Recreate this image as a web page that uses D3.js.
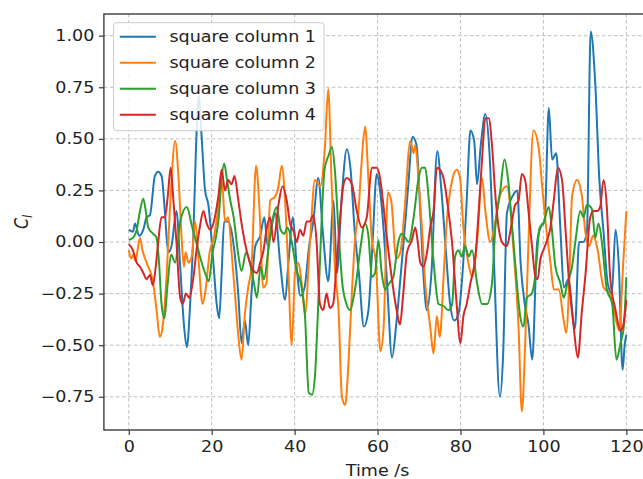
<!DOCTYPE html>
<html><head><meta charset="utf-8">
<script src="https://cdn.jsdelivr.net/npm/d3@7"></script>
<style>body{margin:0;background:#fff;overflow:hidden} text{font-family:"DejaVu Sans",sans-serif;fill:#222}</style>
</head><body><svg id="c" width="643" height="479"></svg>
<script>
const seriesNames = ["square column 1","square column 2","square column 3","square column 4"];
const seriesColors = ["#1f77b4","#ff7f0e","#2ca02c","#d62728"];
const xTicks = [0,20,40,60,80,100,120];
const yTicks = [-0.75,-0.5,-0.25,0,0.25,0.5,0.75,1.0];
const xLabel = "Time /s";

// [time (s), C_l]
const column1 = [[0,0.06],[1,0.05],[1.5,0.09],[2.5,0.03],[3.5,0.06],[4.3,0.12],[5.1,0.13],[6.3,0.32],[7.1,0.34],[7.9,0.32],[8.7,0.15],[9.5,-0.05],[10.3,-0.02],[11.5,0.15],[12.4,-0.12],[13.3,-0.4],[14,-0.51],[14.8,-0.3],[15.6,0.05],[16.2,0.45],[16.9,0.71],[17.6,0.5],[18.4,0.25],[19.2,0.18],[20.4,-0.1],[21.2,-0.3],[21.8,-0.37],[22.4,-0.15],[23,0.1],[24,0.1],[25.2,0.0],[26.4,-0.25],[27.2,-0.49],[28,-0.38],[28.8,-0.5],[29.6,-0.25],[30.5,-0.02],[31.7,0.03],[32.7,0.12],[33.5,-0.02],[34.5,0.08],[35.3,0.14],[36.5,-0.1],[37.7,-0.28],[38.5,-0.1],[39.6,0.12],[40.5,-0.12],[41.4,-0.26],[42.4,-0.22],[43.5,-0.02],[44.5,0.1],[45.7,0.31],[46.8,0.05],[48.1,-0.19],[49.4,0.2],[50.2,-0.15],[51.3,0.2],[52.6,0.45],[53.5,0.35],[54.5,0.05],[55.5,-0.15],[56.7,-0.41],[57.8,-0.33],[58.8,0.0],[59.8,0.33],[60.6,0.25],[61.5,0.05],[62.3,-0.2],[63.5,-0.56],[64.5,-0.4],[65.5,-0.18],[66.5,0.05],[67.5,0.3],[68.4,0.51],[69.4,0.47],[70.3,0.15],[71.2,-0.2],[71.9,-0.33],[73,-0.15],[74.4,0.44],[75.4,0.25],[76.5,-0.05],[77.5,-0.3],[78.5,-0.38],[79.5,-0.35],[80.5,-0.15],[81.5,0.2],[82.4,0.54],[83.3,0.49],[84,0.28],[84.9,0.47],[86,0.62],[87,0.43],[88,-0.05],[89.5,-0.75],[90.3,-0.54],[91.2,0.14],[92.5,0.22],[93.7,0.25],[94.5,-0.1],[95.5,-0.3],[96.4,-0.4],[97.3,-0.57],[98.5,0.0],[99.5,0.08],[100.3,0.1],[101.3,0.65],[102.1,0.4],[103.1,0.43],[104,0.1],[105,-0.22],[106,-0.18],[107.6,-0.42],[108.6,0.0],[109.6,0.0],[110.5,0.05],[111.4,1.02],[112.5,0.77],[113.5,0.3],[114.5,0.05],[115.5,-0.2],[116.5,-0.25],[117.4,0.06],[118.2,-0.12],[119.1,-0.62],[119.6,-0.5],[120,-0.45]];
const column2 = [[0,-0.04],[0.6,-0.08],[1.1,-0.06],[1.6,-0.09],[2.2,-0.03],[2.7,0.02],[3.3,-0.04],[4.3,-0.1],[5.9,-0.2],[6.7,-0.33],[7.5,-0.46],[8.1,-0.42],[9.1,-0.17],[9.9,0.15],[11.2,0.49],[12,0.31],[12.8,0.0],[13.3,-0.12],[13.7,-0.05],[14.4,-0.1],[15.2,-0.07],[16,0.1],[16.8,-0.08],[17.8,-0.3],[18.6,-0.22],[19.5,-0.05],[20.5,0.02],[21.3,0.12],[22.5,0.29],[23.2,0.1],[24,0.12],[24.8,-0.05],[25.6,-0.25],[26.4,-0.45],[27.2,-0.57],[28,-0.35],[28.8,-0.22],[29.6,-0.12],[30.7,0.37],[31.5,0.17],[32.4,-0.22],[33.2,-0.2],[34.1,0.2],[35.3,0.22],[36.1,0.27],[36.9,0.37],[37.7,0.2],[38.5,-0.15],[39.3,-0.5],[40.1,-0.15],[40.9,-0.1],[41.7,-0.2],[42.5,-0.35],[43.7,0.0],[44.9,0.3],[46.2,0.27],[47.3,0.46],[48.1,0.74],[48.9,0.3],[49.7,-0.12],[50.6,-0.33],[51.4,-0.75],[52.2,-0.79],[53,-0.58],[53.8,-0.25],[54.6,0.02],[55.4,0.15],[56.2,0.4],[57,0.56],[57.8,0.3],[58.6,0.02],[59.6,-0.1],[60.7,-0.53],[61.5,-0.4],[62.5,0.24],[63.3,0.2],[64.5,-0.08],[65.5,-0.05],[66.5,0.15],[67.9,0.49],[68.7,0.43],[69.1,0.47],[69.9,0.3],[70.7,0.07],[71.5,-0.2],[72.7,-0.41],[73.5,-0.54],[74.3,-0.36],[75,-0.46],[76,-0.14],[76.7,0.1],[78,0.3],[79.1,0.35],[79.9,0.31],[80.7,0.07],[81.9,-0.1],[82.8,-0.17],[84,0.0],[85.2,0.31],[86,0.15],[87.2,0.0],[88.4,0.1],[89.6,0.23],[91.2,0.27],[92.8,-0.04],[94,-0.41],[94.8,-0.82],[95.6,-0.5],[96.4,0.0],[97.6,0.54],[98.9,0.45],[99.7,0.27],[100.5,0.1],[101.7,-0.1],[102.5,-0.23],[103.7,-0.23],[104.9,-0.38],[105.5,-0.44],[106.3,-0.15],[106.9,0.22],[108.1,0.3],[109.3,0.22],[110.1,0.05],[111,-0.02],[112,0.03],[113,-0.03],[114.5,-0.22],[116,-0.25],[117,-0.33],[118.3,-0.43],[119.2,-0.12],[120,0.15]];
const column3 = [[0,0.01],[1,0.02],[1.9,0.06],[2.7,0.15],[3.5,0.21],[4.1,0.15],[4.7,0.07],[5.9,0.04],[6.7,0.02],[7.3,-0.1],[7.9,-0.3],[8.6,-0.37],[9.3,-0.22],[10.2,-0.06],[11.2,-0.1],[12.4,0.1],[14,0.17],[15.2,0.08],[16.4,-0.01],[17.3,-0.08],[18.4,-0.15],[19.3,-0.19],[20.2,-0.05],[21,0.02],[21.7,0.12],[22.4,0.31],[23,0.38],[23.7,0.3],[24.5,0.2],[25.3,0.12],[26.4,-0.06],[27.2,-0.14],[28.3,-0.05],[29.2,-0.1],[30.2,-0.2],[30.9,-0.27],[31.8,-0.12],[32.6,-0.18],[33.6,-0.05],[34.6,0.1],[35.7,0.17],[36.6,0.06],[37.5,0.04],[38.3,0.07],[39.3,0.0],[40.5,-0.14],[41.5,-0.2],[42.5,-0.36],[43.4,-0.73],[44.2,-0.74],[44.9,-0.65],[45.6,-0.35],[46.4,0.05],[47.2,0.35],[48.2,0.42],[49,0.46],[49.7,0.35],[50.6,0.05],[51.5,-0.2],[52.5,-0.3],[53.4,-0.33],[54.2,-0.27],[55,-0.17],[55.8,-0.04],[57,0.09],[57.8,0.03],[58.6,-0.17],[59.4,-0.15],[60.2,0.01],[61,-0.15],[61.8,-0.23],[62.8,-0.2],[63.8,-0.17],[65,0.0],[65.8,0.04],[66.7,0.02],[67.5,0.0],[68.7,0.12],[69.9,0.31],[70.7,0.36],[71.5,0.36],[72.3,0.22],[73.5,-0.09],[74.7,-0.3],[75.9,-0.31],[77.1,-0.33],[78,-0.3],[78.7,-0.07],[79.5,-0.04],[80.3,-0.07],[81.1,-0.02],[82,-0.07],[82.8,-0.04],[84,-0.2],[85.2,-0.3],[86.4,-0.3],[87.6,-0.2],[88.4,0.07],[89.6,0.25],[90.6,0.4],[91.5,0.3],[92.4,0.09],[93.6,-0.2],[94.4,-0.36],[95.2,-0.41],[96,-0.27],[97.2,-0.25],[98,-0.17],[99.1,0.07],[100,0.09],[101.3,0.17],[102,0.07],[102.9,-0.12],[104.1,-0.2],[104.9,-0.27],[105.8,-0.2],[106.9,-0.12],[107.7,0.0],[108.9,0.15],[109.7,0.12],[110.5,0.18],[111.7,0.16],[112.5,0.02],[113.3,0.09],[114.1,0.0],[115.3,-0.23],[116.6,-0.3],[117.6,-0.57],[118.6,-0.49],[119.4,-0.41],[120,-0.17]];
const column4 = [[0,-0.01],[1,-0.04],[1.9,-0.1],[2.7,-0.12],[3.5,-0.15],[4.3,-0.18],[5.1,-0.16],[5.8,-0.21],[6.5,-0.12],[7.1,0.0],[7.9,0.12],[8.7,0.12],[9.4,0.22],[10.1,0.36],[10.7,0.22],[11.5,0.0],[12.4,-0.27],[13,-0.3],[13.8,-0.25],[14.6,-0.27],[15.6,-0.17],[16.4,-0.03],[17.2,0.08],[18,0.15],[18.8,0.09],[19.6,0.06],[20.4,0.09],[21.6,0.22],[22.4,0.35],[23.2,0.25],[24,0.3],[24.8,0.28],[25.5,0.32],[26.3,0.22],[27.2,0.09],[28.4,-0.04],[29.6,-0.12],[30.9,-0.15],[31.7,-0.1],[32.5,-0.04],[33.3,0.07],[34.1,0.12],[34.9,0.0],[36.1,0.18],[37.1,0.27],[38.1,0.2],[38.9,0.09],[39.8,0.05],[40.5,0.0],[41.3,0.06],[42.1,0.03],[42.9,0.1],[43.7,0.1],[44.5,0.13],[45.3,0.0],[46.1,-0.3],[46.9,-0.33],[47.7,-0.25],[48.5,-0.32],[49.3,-0.3],[50.1,-0.11],[51,0.12],[51.8,0.28],[52.6,0.31],[53.8,0.28],[55,0.15],[56.2,0.07],[57.4,0.12],[58.6,0.36],[59.8,0.36],[60.6,0.31],[61.4,0.18],[62.2,0.03],[63.4,-0.17],[64.6,-0.33],[65.4,-0.4],[66.2,-0.25],[67.1,-0.05],[68.3,0.01],[69.1,0.07],[69.7,0.0],[70.3,-0.1],[71.1,-0.12],[72,-0.04],[72.7,0.07],[73.5,0.15],[74.3,0.36],[75.1,0.35],[75.9,0.31],[77.1,0.15],[78,-0.01],[79,-0.28],[80,-0.49],[80.7,-0.36],[81.5,-0.3],[82.4,-0.2],[83.6,-0.07],[84.4,0.15],[85.2,0.4],[86,0.6],[86.8,0.6],[87.6,0.47],[88.4,0.23],[89.2,0.07],[90,0.0],[91.2,-0.02],[92,0.05],[93.2,0.18],[94,0.2],[94.8,0.33],[95.6,0.3],[96.4,0.15],[97.2,-0.01],[98.1,-0.17],[98.6,-0.18],[99.3,-0.08],[100,-0.04],[100.9,0.01],[101.7,0.07],[102.5,0.2],[103.5,0.36],[104.5,0.3],[105.3,0.07],[106.1,-0.17],[107.3,-0.41],[108.3,-0.56],[109.3,-0.33],[110.1,-0.17],[111.3,0.12],[112.1,0.15],[113,0.15],[113.7,0.17],[114.5,0.3],[115.3,0.17],[116.1,-0.17],[117.4,-0.33],[118.6,-0.43],[119.3,-0.4],[120,-0.28]];
const allSeries = [column1, column2, column3, column4];

const SX = 1.17; // horizontal text stretch of the reference
const svg = d3.select("#c");
const L = 103.9, R = 651.2, T = 14, B = 430;
const x = d3.scaleLinear().domain([-6, 126]).range([L, R]);
const y = d3.scaleLinear().domain([-0.911, 1.105]).range([B, T]);

function stretchText(parent, px, py, str, size, anchor, extra) {
  const g = parent.append("g").attr("transform", `translate(${px},${py})` + (extra || "") + ` scale(${SX},1)`);
  return g.append("text").attr("text-anchor", anchor).style("font-size", size + "px").text(str);
}

// grid
const grid = svg.append("g").attr("stroke", "#b8b8b8").attr("stroke-width", 0.9).attr("stroke-dasharray", "3.5,2.5");
grid.selectAll(".gx").data(xTicks).enter().append("line")
  .attr("x1", d => x(d)).attr("x2", d => x(d)).attr("y1", T).attr("y2", B);
grid.selectAll(".gy").data(yTicks).enter().append("line")
  .attr("y1", d => y(d)).attr("y2", d => y(d)).attr("x1", L).attr("x2", R);

// lines
svg.append("clipPath").attr("id", "clip").append("rect").attr("x", L).attr("y", T).attr("width", R - L).attr("height", B - T);
const line = d3.line().x(d => x(d[0])).y(d => y(d[1])).curve(d3.curveMonotoneX);
svg.append("g").attr("clip-path", "url(#clip)").selectAll("path").data(allSeries).enter().append("path")
  .attr("d", line).attr("fill", "none").attr("stroke", (d, i) => seriesColors[i])
  .attr("stroke-width", 2).attr("stroke-linejoin", "round");

// frame
svg.append("rect").attr("x", L).attr("y", T).attr("width", R - L).attr("height", B - T)
  .attr("fill", "none").attr("stroke", "#3c3c3c").attr("stroke-width", 1.4);

// axes
const fmt = d3.format(".2f");
const xAxis = svg.append("g").attr("transform", `translate(0,${B})`)
  .call(d3.axisBottom(x).tickValues(xTicks).tickSize(5).tickPadding(6).tickFormat(d3.format("d")));
const yAxis = svg.append("g").attr("transform", `translate(${L},0)`)
  .call(d3.axisLeft(y).tickValues(yTicks).tickSize(5).tickPadding(4).tickFormat(fmt));
[xAxis, yAxis].forEach(a => {
  a.select(".domain").remove();
  a.selectAll(".tick line").attr("stroke", "#3c3c3c").attr("stroke-width", 1.2);
  a.selectAll(".tick text").attr("fill", "#222").style("font-family", '"DejaVu Sans",sans-serif').style("font-size", "15px");
});
yAxis.selectAll(".tick text").attr("x", -9.5 / SX).attr("transform", `scale(${SX},1)`);
xAxis.selectAll(".tick text").attr("transform", `scale(${SX},1)`);

// axis labels
stretchText(svg, (L + R) / 2, 476, xLabel, 15, "middle");
const yl = svg.append("g").attr("transform", `translate(28,222) scale(${SX},1) rotate(-90)`)
  .append("text").attr("text-anchor", "middle").style("font-size", "16px").style("font-style", "italic");
yl.append("tspan").text("C");
yl.append("tspan").attr("dy", "0.3em").style("font-size", "11px").text("l");

// legend
const lg = svg.append("g");
lg.append("rect").attr("x", 113.6).attr("y", 22.7).attr("width", 210.4).attr("height", 108).attr("rx", 3)
  .attr("fill", "#fff").attr("fill-opacity", 0.85).attr("stroke", "#cccccc").attr("stroke-width", 1);
seriesNames.forEach((n, i) => {
  const yy = 36.7 + i * 26;
  lg.append("line").attr("x1", 119.8).attr("x2", 155.9).attr("y1", yy).attr("y2", yy)
    .attr("stroke", seriesColors[i]).attr("stroke-width", 2);
  stretchText(lg, 169.4, yy, n, 15, "start").attr("dy", "0.36em");
});
</script></body></html>
